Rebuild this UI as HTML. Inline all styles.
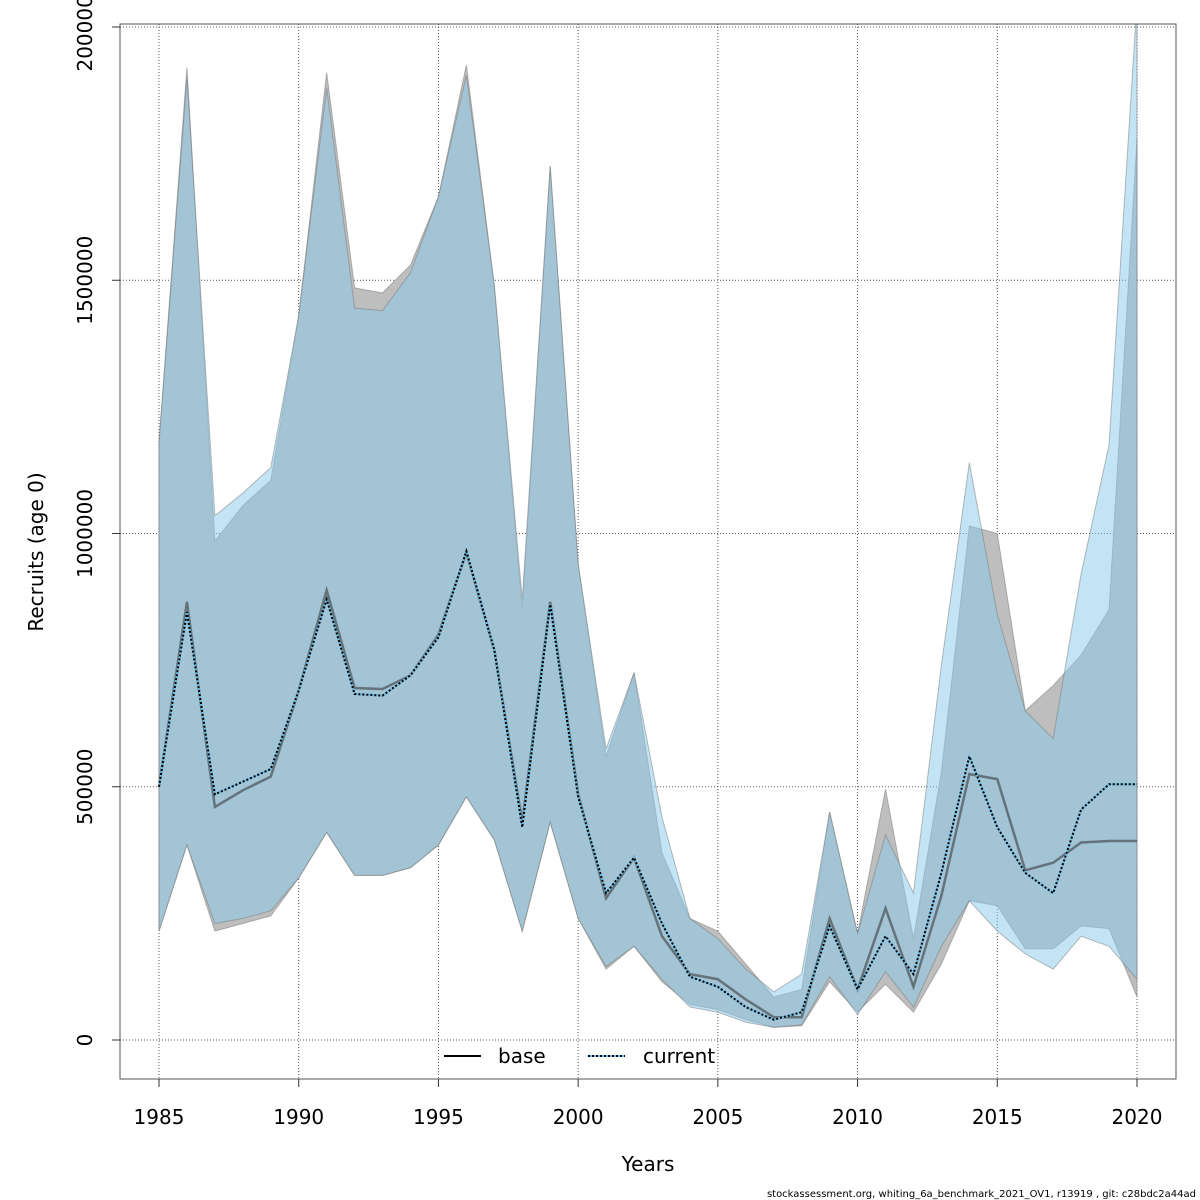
<!DOCTYPE html>
<html><head><meta charset="utf-8"><style>
body{margin:0;background:#fff;width:1200px;height:1200px;overflow:hidden}
svg{display:block;font-family:"DejaVu Sans","Liberation Sans",sans-serif}
</style></head><body>
<svg id="chart" width="1200" height="1200" viewBox="0 0 1200 1200" xmlns="http://www.w3.org/2000/svg">
<defs><clipPath id="plotclip"><rect x="120" y="24" width="1056" height="1055"/></clipPath></defs>
<g id="grid"></g>
<g id="bands" clip-path="url(#plotclip)"></g>
<g id="lines" clip-path="url(#plotclip)"></g>
<rect x="120" y="24" width="1056" height="1055" fill="none" stroke="#555" stroke-width="1"/>
<g id="axes"></g>
<text x="648" y="1171" font-size="20" text-anchor="middle">Years</text>
<text transform="translate(43,552) rotate(-90)" font-size="20" text-anchor="middle">Recruits (age 0)</text>
<g>
<line x1="444" y1="1056" x2="481" y2="1056" stroke="#000" stroke-width="2"/>
<text x="498" y="1063" font-size="20">base</text>
<line x1="588" y1="1056" x2="625" y2="1056" stroke="#6cc0ea" stroke-width="2"/>
<line x1="588" y1="1056" x2="625" y2="1056" stroke="#000" stroke-width="2" stroke-dasharray="2,2"/>
<text x="643" y="1063" font-size="20">current</text>
</g>
<text x="1196" y="1197" font-size="10" text-anchor="end">stockassessment.org, whiting_6a_benchmark_2021_OV1, r13919 , git: c28bdc2a44ad</text>
</svg>
<script>
const years = [1985,1986,1987,1988,1989,1990,1991,1992,1993,1994,1995,1996,1997,1998,1999,2000,2001,2002,2003,2004,2005,2006,2007,2008,2009,2010,2011,2012,2013,2014,2015,2016,2017,2018,2019,2020];
const baseMean = [500,865,460,493,520,690,888,695,693,720,800,963,770,430,865,485,280,360,205,130,120,80,45,45,240,100,260,105,285,525,515,335,350,390,393,393];
const baseLow = [215,385,215,230,245,320,410,325,325,340,385,480,395,215,430,240,140,185,115,70,60,40,25,28,115,55,110,55,150,275,265,180,180,225,220,85];
const baseHigh = [1180,1920,985,1055,1105,1430,1910,1485,1475,1530,1665,1925,1490,850,1725,940,560,725,370,240,215,150,85,100,450,210,495,200,530,1015,1000,650,700,760,850,1780];
const curMean = [500,845,485,510,535,690,870,683,680,720,795,965,770,420,860,480,290,360,230,125,105,65,40,55,225,100,205,130,330,560,420,330,290,455,505,505];
const curLow = [215,385,230,240,255,320,410,325,325,340,385,480,395,215,430,240,145,185,120,65,55,35,25,30,125,50,135,65,185,275,215,170,140,205,185,120];
const curHigh = [1180,1900,1035,1080,1130,1430,1880,1445,1440,1515,1665,1905,1490,870,1725,940,575,725,440,240,200,140,95,130,450,210,405,290,740,1140,840,650,595,920,1175,2050];
const xTicks = [1985,1990,1995,2000,2005,2010,2015,2020];
const yTicks = [0,500000,1000000,1500000,2000000];
const NS='http://www.w3.org/2000/svg';
const xs = y => 159 + (y-1985)*(1137-159)/35;
const ys = v => 1040 - v*(1040-27)/2000000;
function mk(tag,attrs,parent){const e=document.createElementNS(NS,tag);for(const k in attrs)e.setAttribute(k,attrs[k]);parent.appendChild(e);return e;}
const grid=document.getElementById('grid'),bands=document.getElementById('bands'),lines=document.getElementById('lines'),axes=document.getElementById('axes');
xTicks.forEach(t=>{
  const l=mk('line',{x1:xs(t),x2:xs(t),y1:24,y2:1079,stroke:'#555','stroke-dasharray':'1,2','stroke-width':1},grid);
  
  
  const tk=mk('line',{x1:xs(t),x2:xs(t),y1:1079,y2:1087,stroke:'#333'},axes);
  
  
  const tx=mk('text',{x:xs(t),y:1124,'font-size':20,'text-anchor':'middle'},axes);
  tx.textContent=t;
  
  
});
yTicks.forEach(t=>{
  const l=mk('line',{x1:120,x2:1176,y1:ys(t),y2:ys(t),stroke:'#555','stroke-dasharray':'1,2','stroke-width':1},grid);
  
  
  const tk=mk('line',{x1:112,x2:120,y1:ys(t),y2:ys(t),stroke:'#333'},axes);
  
  
  const tx=mk('text',{transform:`translate(92,${ys(t)}) rotate(-90)`,'font-size':20,'text-anchor':'middle'},axes);
  tx.textContent=t;
  
  
});
function band(lo,hi,fill,name){
  let pts=years.map((y,i)=>xs(y)+','+ys(hi[i]*1000));
  for(let i=years.length-1;i>=0;i--)pts.push(xs(years[i])+','+ys(lo[i]*1000));
  const p=mk('polygon',{points:pts.join(' '),fill:fill,stroke:'rgba(120,120,120,0.5)','stroke-width':1},bands);
  
  
}
band(baseLow,baseHigh,'#bebebe','base-ci-band');
band(curLow,curHigh,'rgba(137,202,235,0.51)','current-ci-band');
function path(arr){return years.map((y,i)=>(i?'L':'M')+xs(y)+','+ys(arr[i]*1000)).join(' ');}
const b=mk('path',{d:path(baseMean),fill:'none',stroke:'rgba(50,50,50,0.55)','stroke-width':2.5},lines);


const c1=mk('path',{d:path(curMean),fill:'none',stroke:'#6cc0ea','stroke-width':2},lines);


const c2=mk('path',{d:path(curMean),fill:'none',stroke:'#000','stroke-width':2,'stroke-dasharray':'2,2'},lines);


</script>
</body></html>
